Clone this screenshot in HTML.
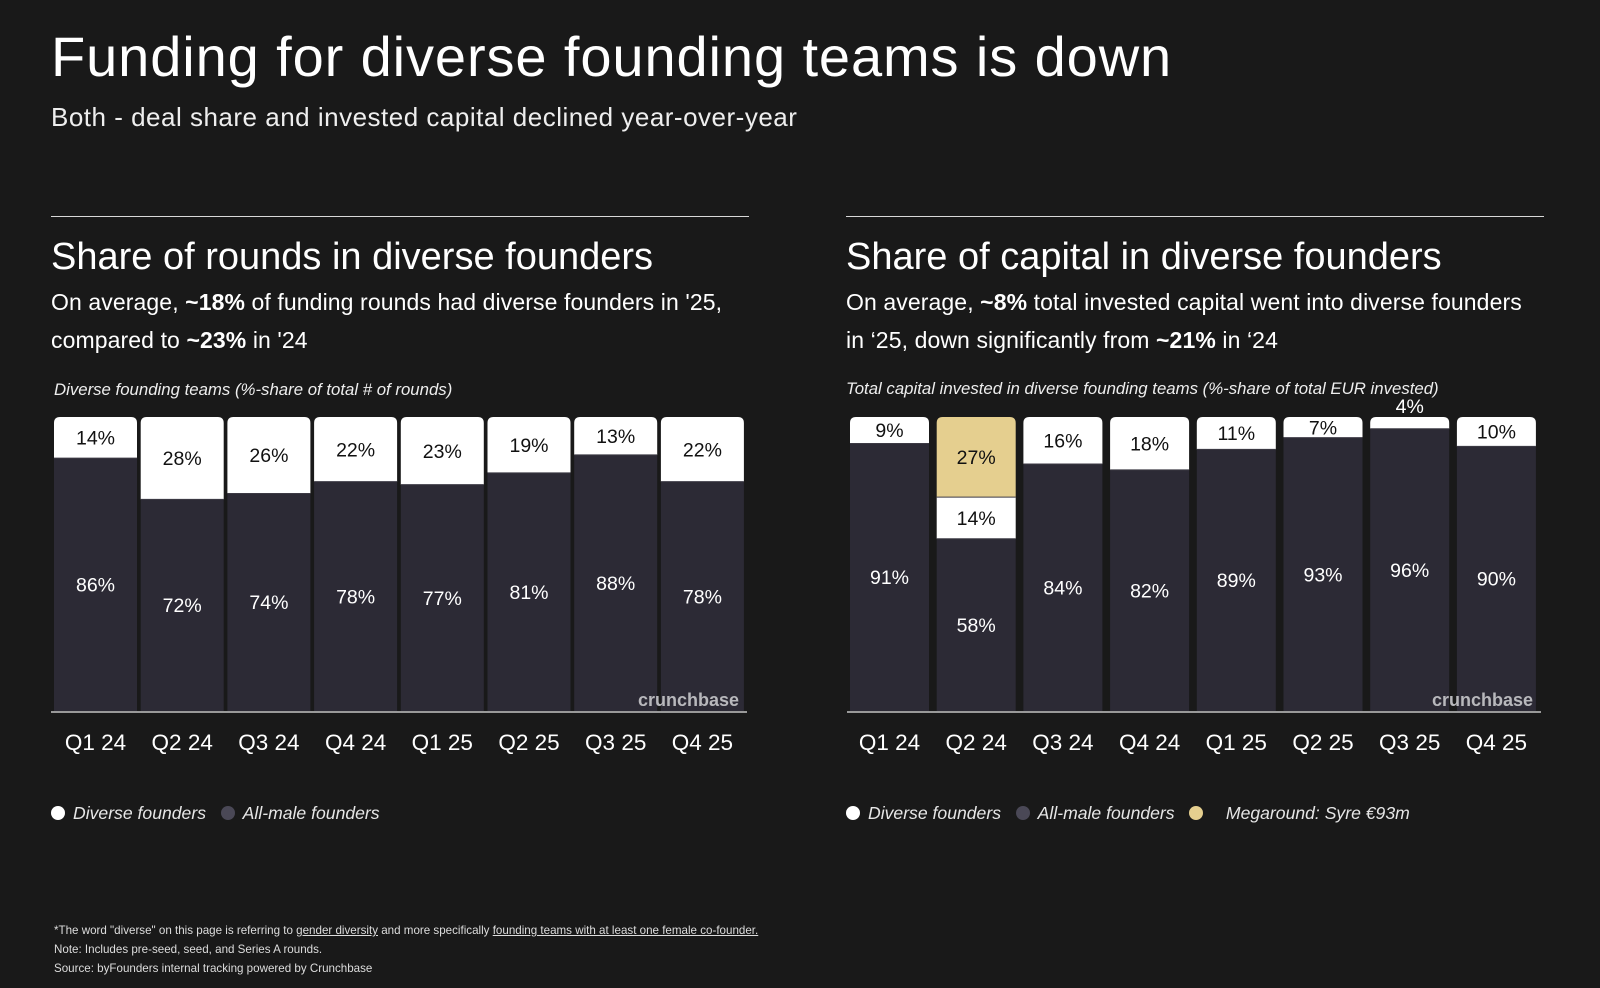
<!DOCTYPE html>
<html><head><meta charset="utf-8"><style>
body{margin:0;width:1600px;height:988px;background:#191919;color:#fff;font-family:"Liberation Sans",sans-serif;overflow:hidden;position:relative}
.a{position:absolute;white-space:nowrap}
.rule{position:absolute;height:1px;background:#d8d8d8}
.leg{position:absolute;font-style:italic;font-size:17.6px;color:#e6e6e6;top:803px}
.dot{display:inline-block;width:14px;height:14px;border-radius:50%;vertical-align:-1px;margin-right:8px}
.foot{position:absolute;left:54px;font-size:11.6px;color:#ddd}
u{text-decoration:underline}
</style></head><body>
<div class="a" style="left:51px;top:24px;font-size:56px;letter-spacing:0.9px">Funding for diverse founding teams is down</div>
<div class="a" style="left:51px;top:102px;font-size:26px;letter-spacing:0.5px;color:#eee">Both - deal share and invested capital declined year-over-year</div>
<div class="rule" style="left:51px;top:216px;width:698px"></div>
<div class="rule" style="left:846px;top:216px;width:698px"></div>
<div class="a" style="left:51px;top:236px;font-size:38px">Share of rounds in diverse founders</div>
<div class="a" style="left:846px;top:236px;font-size:38px">Share of capital in diverse founders</div>
<div class="a" style="left:51px;top:283px;font-size:23px;line-height:38px;letter-spacing:0.1px">On average, <b>~18%</b> of funding rounds had diverse founders in '25,<br>compared to <b>~23%</b> in '24</div>
<div class="a" style="left:846px;top:283px;font-size:23px;line-height:38px;letter-spacing:0.1px">On average, <b>~8%</b> total invested capital went into diverse founders<br>in ‘25, down significantly from <b>~21%</b> in ‘24</div>
<div class="a" style="left:54px;top:380px;font-size:16.8px;font-style:italic;color:#eee">Diverse founding teams (%-share of total # of rounds)</div>
<div class="a" style="left:846px;top:379px;font-size:16.8px;font-style:italic;color:#eee">Total capital invested in diverse founding teams (%-share of total EUR invested)</div>
<svg id="chart" width="1600" height="988" style="position:absolute;left:0;top:0"></svg>
<div class="leg" style="left:51px"><span class="dot" style="background:#fff"></span>Diverse founders &nbsp;&nbsp;<span class="dot" style="background:#4a4856"></span>All-male founders</div>
<div class="leg" style="left:846px"><span class="dot" style="background:#fff"></span>Diverse founders &nbsp;&nbsp;<span class="dot" style="background:#4a4856"></span>All-male founders &nbsp;&nbsp;<span class="dot" style="background:#e5cf8f"></span>&nbsp;&nbsp; Megaround: Syre €93m</div>
<div class="foot" style="top:924px">*The word "diverse" on this page is referring to <u>gender diversity</u> and more specifically <u>founding teams with at least one female co-founder.</u></div>
<div class="foot" style="top:943px">Note: Includes pre-seed, seed, and Series A rounds.</div>
<div class="foot" style="top:962px">Source: byFounders internal tracking powered by Crunchbase</div>
<script>
const categories=["Q1 24","Q2 24","Q3 24","Q4 24","Q1 25","Q2 25","Q3 25","Q4 25"];
const roundsDiverse=[14,28,26,22,23,19,13,22];
const roundsMale=[86,72,74,78,77,81,88,78];
const capitalDiverse=[9,14,16,18,11,7,4,10];
const capitalMega=[0,27,0,0,0,0,0,0];
const capitalMale=[91,58,84,82,89,93,96,90];
const NS="http://www.w3.org/2000/svg";
const svg=document.getElementById('chart');
function mk(t,at){const e=document.createElementNS(NS,t);for(const k in at)e.setAttribute(k,at[k]);svg.appendChild(e);return e;}
const top0=417,base=711,H=base-top0;
function drawChart(x0,pitch,bw,axisW,segs,prefix){
  const total=i=>segs.reduce((s,g)=>s+g.v[i],0);
  categories.forEach((c,i)=>{
    const x=x0+i*pitch;
    const t=total(i);
    const y=v=>H*v/t;
    let cy=base;
    const order=segs.slice().reverse();
    const rects=[];
    order.forEach(g=>{
      const v=g.v[i]; if(!v)return;
      const h=y(v);
      rects.push({g,v,h,y:cy-h});cy-=h;
    });
    rects.forEach((r,k)=>{
      const isTop=k===rects.length-1;
      let el;
      if(isTop){
        const rr=6,x1=x,x2=x+bw,y1=r.y,y2=r.y+r.h;
        el=mk('path',{d:`M${x1},${y2}V${y1+rr}Q${x1},${y1} ${x1+rr},${y1}H${x2-rr}Q${x2},${y1} ${x2},${y1+rr}V${y2}Z`,fill:r.g.c});
      } else el=mk('rect',{x:x,y:r.y,width:bw,height:r.h,fill:r.g.c});
      
      
      if(k>0){mk('line',{x1:x,x2:x+bw,y1:r.y+r.h,y2:r.y+r.h,stroke:'#3c3a44','stroke-width':1});}
      let ly=r.y+r.h/2+7, col=r.g.c==='#2c2a35'?'#fff':'#111';
      if(r.h<16){ly=r.y-4;col='#fff';}
      const tx=mk('text',{x:x+bw/2,y:ly,'text-anchor':'middle','font-size':19.5,fill:col,'font-family':'Liberation Sans, sans-serif'});
      tx.textContent=r.v+'%';
      
      
    });
    const lb=mk('text',{x:x+bw/2,y:750,'text-anchor':'middle','font-size':22.5,fill:'#fff','font-family':'Liberation Sans, sans-serif'});
    lb.textContent=c;
    
    
  });
  const ax=mk('line',{x1:x0-3,x2:x0-3+axisW,y1:base+1,y2:base+1,stroke:'#999','stroke-width':2});
  
  
  const wm=mk('text',{x:x0-3+axisW-8,y:706,'text-anchor':'end','font-size':18,fill:'#b8b8bc','font-family':'Liberation Sans, sans-serif','font-weight':'bold'});
  wm.textContent='crunchbase';
  
  
}
drawChart(54,86.7,83,696,[{n:'diverse',v:roundsDiverse,c:'#ffffff'},{n:'male',v:roundsMale,c:'#2c2a35'}],'rounds');
drawChart(850,86.7,79,694,[{n:'mega',v:capitalMega,c:'#e5cf8f'},{n:'diverse',v:capitalDiverse,c:'#ffffff'},{n:'male',v:capitalMale,c:'#2c2a35'}],'capital');
</script>
</body></html>
